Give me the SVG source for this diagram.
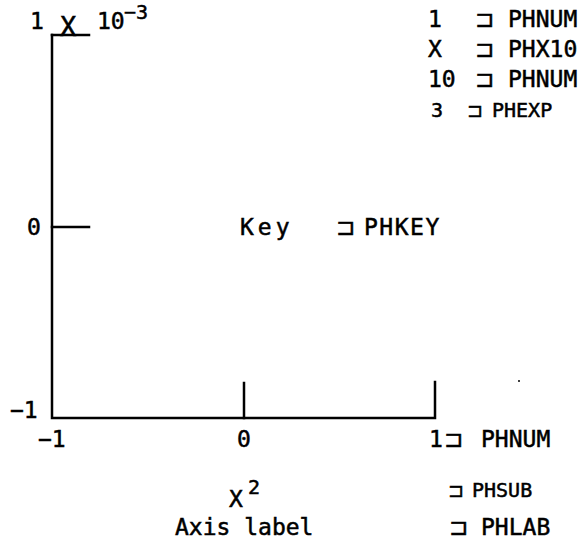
<svg xmlns="http://www.w3.org/2000/svg" width="588" height="545" viewBox="0 0 588 545">
<style>
text{fill:#000;stroke:#000;stroke-width:0.5}
.t{font-family:"DejaVu Sans Mono","Liberation Mono",monospace;font-size:23px}
.s{font-family:"DejaVu Sans Mono","Liberation Mono",monospace;font-size:20px}
.b{font-family:"DejaVu Sans","Liberation Sans",sans-serif;font-size:23px}
.bs{font-family:"DejaVu Sans","Liberation Sans",sans-serif;font-size:19px}
.ax{stroke:#000;stroke-width:2.5;fill:none;stroke-linecap:square}
</style>
<rect width="588" height="545" fill="#fff"/>
<g id="axes">
<path class="ax" d="M52,35 V418 H435 V382"/>
<path class="ax" d="M52,35 H89"/>
<path class="ax" d="M52,227 H89"/>
<path class="ax" d="M244,383 V418"/>
</g>
<g id="title">
<text class="t" x="30" y="29">1</text>
<text class="t" x="60" y="36" style="font-size:27px">X</text>
<text class="t" x="97" y="29">10</text>
<text class="s" x="124" y="19">−3</text>
</g>
<g id="legend">
<text class="t" x="428" y="27">1</text><text class="b" x="475" y="27">⊐</text><text class="t" x="508" y="27">PHNUM</text>
<text class="t" x="428" y="57">X</text><text class="b" x="475" y="57">⊐</text><text class="t" x="508" y="57">PHX10</text>
<text class="t" x="428" y="87">10</text><text class="b" x="475" y="87">⊐</text><text class="t" x="508" y="87">PHNUM</text>
<text class="s" x="431" y="117">3</text><text class="bs" x="467" y="117">⊐</text><text class="s" x="492" y="117">PHEXP</text>
</g>
<g id="key">
<text class="t" x="240" y="235" letter-spacing="4">Key</text>
<text class="b" x="336" y="235">⊐</text><text class="t" x="364" y="235" letter-spacing="1.5">PHKEY</text>
</g>
<g id="ylabels">
<text class="t" x="27" y="235">0</text>
<text class="t" x="10" y="418">−1</text>
</g>
<g id="xlabels">
<text class="t" x="38" y="447">−1</text>
<text class="t" x="237" y="447">0</text>
<text class="t" x="429" y="447">1</text><text class="b" x="444" y="447">⊐</text><text class="t" x="481" y="447">PHNUM</text>
</g>
<g id="sub">
<text class="t" x="229" y="507">X</text><text class="s" x="248" y="494">2</text>
<text class="bs" x="448" y="497">⊐</text><text class="s" x="472" y="497">PHSUB</text>
</g>
<g id="lab">
<text class="t" x="175" y="535">Axis label</text>
<text class="b" x="449" y="535">⊐</text><text class="t" x="481" y="535">PHLAB</text>
</g>
<circle cx="519" cy="381" r="1" fill="#000"/>
</svg>
